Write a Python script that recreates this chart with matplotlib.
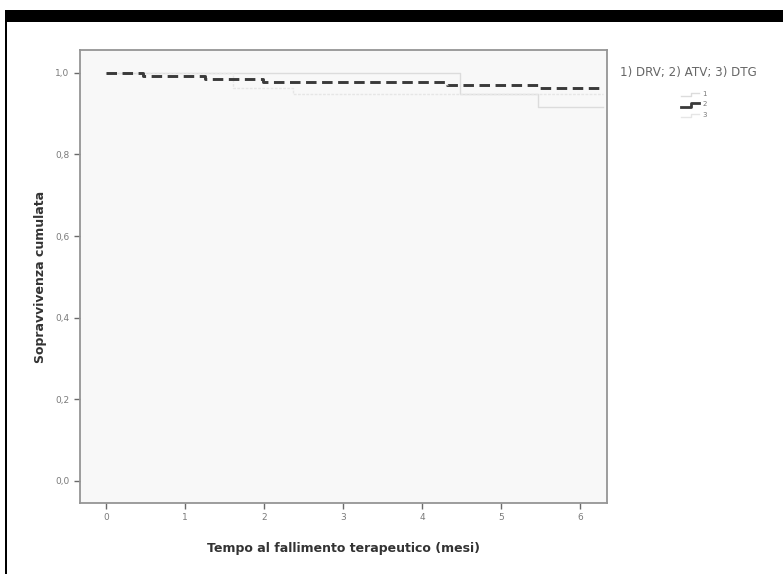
import numpy as np
import matplotlib

matplotlib.use("Agg")
import matplotlib.pyplot as plt
from matplotlib.lines import Line2D
from matplotlib.patches import Rectangle

# Kaplan-Meier steps (months, cumulative survival)
t_drv = [0.0, 4.48, 5.47, 6.29]
s_drv = [1.0, 0.949, 0.917, 0.917]
t_atv = [0.0, 0.47, 1.25, 1.99, 4.32, 5.47, 6.29]
s_atv = [1.0, 0.993, 0.985, 0.978, 0.971, 0.963, 0.963]
t_dtg = [0.0, 1.60, 2.37, 6.29]
s_dtg = [1.0, 0.963, 0.949, 0.949]

x_ticks = [0, 1, 2, 3, 4, 5, 6]
y_ticks = [0.0, 0.2, 0.4, 0.6, 0.8, 1.0]
y_labels = ["0,0", "0,2", "0,4", "0,6", "0,8", "1,0"]
group_labels = ["1", "2", "3"]
legend_title = "1) DRV; 2) ATV; 3) DTG"

LIGHT1 = "#dcdcdc"
LIGHT3 = "#e6e6e6"
DARK = "#3a3a3a"
TXT = "#7a7a7a"

fig = plt.figure(figsize=(7.83, 5.74), dpi=100)
fig.patch.set_facecolor("white")

# black frame bits of the screenshot
fig.add_artist(Rectangle((0.008, 0.962), 1.0, 0.021, transform=fig.transFigure,
                         color="black", lw=0))
fig.add_artist(Rectangle((0.006, 0.0), 0.0028, 0.983, transform=fig.transFigure,
                         color="black", lw=0))

ax = fig.add_axes([0.1022, 0.1237, 0.673, 0.7892])
ax.set_facecolor("#f8f8f8")

ax.step(t_drv, s_drv, where="post", color=LIGHT1, lw=1.0)
ax.step(t_dtg, s_dtg, where="post", color=LIGHT3, lw=1.0, ls=(0, (2, 1)))
ax.step(t_atv, s_atv, where="post", color=DARK, lw=2.1, ls=(0, (3.6, 1.9)))

ax.set_xlim(-0.33, 6.34)
ax.set_ylim(-0.054, 1.056)
ax.set_xticks(x_ticks)
ax.set_xticklabels([str(v) for v in x_ticks])
ax.set_yticks(y_ticks)
ax.set_yticklabels(y_labels)
ax.tick_params(direction="out", length=4, width=1, color="#6a6a6a",
               labelsize=6.5, labelcolor=TXT)
for sp in ax.spines.values():
    sp.set_color("#959595")
    sp.set_linewidth(1.3)

ax.set_xlabel("Tempo al fallimento terapeutico (mesi)", fontsize=9,
              fontweight="bold", color="#333333", labelpad=14)
ax.set_ylabel("Sopravvivenza cumulata", fontsize=9, fontweight="bold",
              color="#333333", labelpad=6)

# legend drawn by hand, SPSS style
fig.text(0.792, 0.873, legend_title, fontsize=8.6, color="#666666",
         ha="left", va="center")
styles = [(LIGHT1, 1.0, "-"), (DARK, 2.0, "-"), (LIGHT3, 1.0, "-")]
for i, (lab, (c, lw, ls)) in enumerate(zip(group_labels, styles)):
    yb = 0.832 - i * 0.018
    fig.add_artist(Line2D([0.870, 0.883, 0.883, 0.893], [yb, yb, yb + 0.006, yb + 0.006],
                          transform=fig.transFigure, color=c, lw=lw, ls=ls))
    fig.text(0.897, yb + 0.004, lab, fontsize=5, color="#777777", ha="left", va="center")

fig.savefig("out.png", dpi=100)
